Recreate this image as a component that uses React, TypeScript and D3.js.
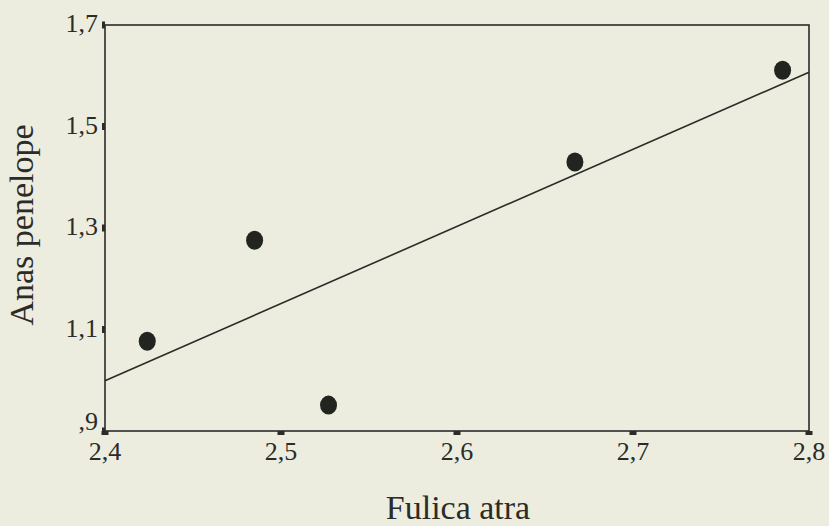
import * as d3 from "d3";
import React, { useEffect, useRef } from "react";

// Fulica atra (x) vs Anas penelope (y)
const fulica = [2.424, 2.485, 2.527, 2.667, 2.785];
const anas = [1.077, 1.276, 0.951, 1.43, 1.611];

const xTicks = [2.4, 2.5, 2.6, 2.7, 2.8];
const xTickLabels = ["2,4", "2,5", "2,6", "2,7", "2,8"];
const yTicks = [0.9, 1.1, 1.3, 1.5, 1.7];
const yTickLabels = [",9", "1,1", "1,3", "1,5", "1,7"];

const W = 829;
const H = 526;

const App: React.FC = () => {
  const svgRef = useRef<SVGSVGElement | null>(null);

  useEffect(() => {
    const svg = d3.select(svgRef.current);
    svg.selectAll("*").remove();

    const left = 105;
    const right = 809;
    const top = 25;
    const bottom = 431;
    const ink = "#2b2b28";
    const font = "'Liberation Serif', 'Times New Roman', serif";

    svg.append("rect").attr("width", W).attr("height", H).attr("fill", "#ecedde");

    const x = d3.scaleLinear().domain([2.4, 2.8]).range([left, right]);
    const y = d3.scaleLinear().domain([0.9, 1.7]).range([bottom, top]);

    // frame
    svg
      .append("rect")
      .attr("x", left)
      .attr("y", top)
      .attr("width", right - left)
      .attr("height", bottom - top)
      .attr("fill", "none")
      .attr("stroke", ink)
      .attr("stroke-width", 1.6);

    // x ticks + labels
    const xg = svg.append("g");
    xg.selectAll("rect")
      .data(xTicks)
      .enter()
      .append("rect")
      .attr("x", (d) => x(d) - 3.5)
      .attr("y", bottom)
      .attr("width", 7)
      .attr("height", 4)
      .attr("fill", ink);
    xg.selectAll("text")
      .data(xTicks)
      .enter()
      .append("text")
      .attr("x", (d) => x(d))
      .attr("y", bottom + 29)
      .attr("text-anchor", "middle")
      .attr("font-family", font)
      .attr("font-size", 26)
      .attr("fill", ink)
      .text((_, i) => xTickLabels[i]);

    // y ticks + labels (lowest one sits above the x axis, as in the original)
    const yg = svg.append("g");
    yg.selectAll("rect")
      .data(yTicks)
      .enter()
      .append("rect")
      .attr("x", left - 3)
      .attr("y", (d) => y(d) - 3.5)
      .attr("width", 3)
      .attr("height", 7)
      .attr("fill", ink);
    yg.selectAll("text")
      .data(yTicks)
      .enter()
      .append("text")
      .attr("x", left - 7)
      .attr("y", (d, i) => y(d) + (i === 0 ? -1 : 7))
      .attr("text-anchor", "end")
      .attr("font-family", font)
      .attr("font-size", 26)
      .attr("fill", ink)
      .text((_, i) => yTickLabels[i]);

    // least squares fit line
    const mx = d3.mean(fulica)!;
    const my = d3.mean(anas)!;
    const sxy = d3.sum(fulica, (v, i) => (v - mx) * (anas[i] - my));
    const sxx = d3.sum(fulica, (v) => (v - mx) ** 2);
    const slope = sxy / sxx;
    const fit = (v: number) => my + slope * (v - mx);
    const line = d3
      .line<number>()
      .x((d) => x(d))
      .y((d) => y(fit(d)));
    svg
      .append("path")
      .attr("d", line([2.4, 2.8])!)
      .attr("fill", "none")
      .attr("stroke", ink)
      .attr("stroke-width", 1.6);

    // points
    svg
      .append("g")
      .selectAll("ellipse")
      .data(fulica)
      .enter()
      .append("ellipse")
      .attr("cx", (d) => x(d))
      .attr("cy", (_, i) => y(anas[i]))
      .attr("rx", 8.5)
      .attr("ry", 9.5)
      .attr("fill", "#22241f");

    // axis titles
    svg
      .append("text")
      .attr("x", 458)
      .attr("y", 519)
      .attr("text-anchor", "middle")
      .attr("font-family", font)
      .attr("font-size", 34)
      .attr("fill", ink)
      .text("Fulica atra");

    svg
      .append("text")
      .attr("transform", "translate(33,225) rotate(-90)")
      .attr("text-anchor", "middle")
      .attr("font-family", font)
      .attr("font-size", 34)
      .attr("fill", ink)
      .text("Anas penelope");
  }, []);

  return (
    <svg
      ref={svgRef}
      width={W}
      height={H}
      style={{ position: "absolute", left: 0, top: 0, display: "block" }}
    ></svg>
  );
};

export default App;
